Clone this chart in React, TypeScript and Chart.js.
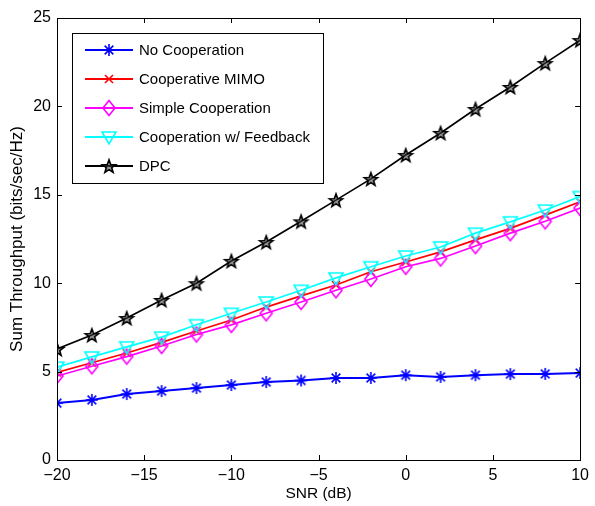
import React, { useEffect, useRef } from "react";
import { Chart, registerables } from "chart.js";

Chart.register(...registerables);

const snr = [-20, -18, -16, -14, -12, -10, -8, -6, -4, -2, 0, 2, 4, 6, 8, 10];
const noCoop = [3.22, 3.4, 3.73, 3.9, 4.07, 4.24, 4.41, 4.5, 4.64, 4.64, 4.8, 4.7, 4.8, 4.86, 4.87, 4.92];
const coopMimo = [4.95, 5.5, 6.05, 6.65, 7.3, 7.92, 8.65, 9.28, 9.9, 10.65, 11.2, 11.77, 12.45, 13.1, 13.85, 14.6];
const simpleCoop = [4.75, 5.3, 5.85, 6.45, 7.1, 7.64, 8.3, 8.94, 9.6, 10.24, 10.93, 11.4, 12.1, 12.83, 13.5, 14.25];
const coopFeedback = [5.25, 5.83, 6.4, 6.95, 7.65, 8.3, 8.94, 9.6, 10.3, 10.93, 11.54, 12.05, 12.83, 13.47, 14.14, 14.9];
const dpc = [6.28, 7.07, 8.03, 9.05, 10.0, 11.26, 12.33, 13.5, 14.7, 15.9, 17.25, 18.5, 19.85, 21.1, 22.45, 23.75];

const seriesLabels = ["No Cooperation", "Cooperative MIMO", "Simple Cooperation", "Cooperation w/ Feedback", "DPC"];
const seriesColors = ["#0000ff", "#ff0000", "#ff00ff", "#00ffff", "#000000"];
const seriesMarkers = ["asterisk", "x", "diamond", "triangleDown", "pentagram"];
const seriesValues = [noCoop, coopMimo, simpleCoop, coopFeedback, dpc];

const xTicks = [-20, -15, -10, -5, 0, 5, 10];
const yTicks = [0, 5, 10, 15, 20, 25];

const FONT = "'Liberation Sans', Arial, Helvetica, sans-serif";

function makeMarker(type: string, color: string): HTMLCanvasElement {
  const s = 20;
  const c = document.createElement("canvas");
  c.width = s;
  c.height = s;
  const ctx = c.getContext("2d")!;
  const m = s / 2;
  ctx.strokeStyle = color;
  ctx.lineWidth = 1.6;
  ctx.lineJoin = "miter";
  ctx.beginPath();
  if (type === "asterisk") {
    const r = 6;
    ctx.moveTo(m, m - r); ctx.lineTo(m, m + r);
    ctx.moveTo(m - r, m); ctx.lineTo(m + r, m);
    const d = r * 0.72;
    ctx.moveTo(m - d, m - d); ctx.lineTo(m + d, m + d);
    ctx.moveTo(m - d, m + d); ctx.lineTo(m + d, m - d);
  } else if (type === "x") {
    const d = 4;
    ctx.moveTo(m - d, m - d); ctx.lineTo(m + d, m + d);
    ctx.moveTo(m - d, m + d); ctx.lineTo(m + d, m - d);
  } else if (type === "diamond") {
    ctx.moveTo(m, m - 7.5); ctx.lineTo(m + 6, m); ctx.lineTo(m, m + 7.5); ctx.lineTo(m - 6, m); ctx.closePath();
  } else if (type === "triangleDown") {
    ctx.moveTo(m - 7, m - 5); ctx.lineTo(m + 7, m - 5); ctx.lineTo(m, m + 7); ctx.closePath();
  } else if (type === "pentagram") {
    const R = 7, r = 2.9;
    for (let i = 0; i < 10; i++) {
      const a = -Math.PI / 2 + (i * Math.PI) / 5;
      const rad = i % 2 === 0 ? R : r;
      const px = m + rad * Math.cos(a);
      const py = m + 0.8 + rad * Math.sin(a);
      if (i === 0) ctx.moveTo(px, py); else ctx.lineTo(px, py);
    }
    ctx.closePath();
    ctx.fillStyle = "rgba(60,60,60,0.55)";
    ctx.fill();
  }
  ctx.stroke();
  return c;
}

const minus = (v: number) => (v < 0 ? "\u2212" + Math.abs(v) : String(v));

export default function App() {
  const ref = useRef<HTMLCanvasElement | null>(null);
  useEffect(() => {
    document.body.style.margin = "0";
    const markers = seriesMarkers.map((t, i) => makeMarker(t, seriesColors[i]));

    const framePlugin = {
      id: "frame",
      afterDatasetsDraw(chart: any) {
        const { ctx, chartArea: a, scales } = chart;
        ctx.save();
        ctx.strokeStyle = "#000";
        ctx.lineWidth = 1;
        ctx.strokeRect(Math.round(a.left) + 0.5, Math.round(a.top) + 0.5, Math.round(a.right - a.left), Math.round(a.bottom - a.top));
        ctx.beginPath();
        const L = 5;
        xTicks.forEach((v) => {
          const x = Math.round(scales.x.getPixelForValue(v)) + 0.5;
          ctx.moveTo(x, a.bottom); ctx.lineTo(x, a.bottom - L);
          ctx.moveTo(x, a.top); ctx.lineTo(x, a.top + L);
        });
        yTicks.forEach((v) => {
          const y = Math.round(scales.y.getPixelForValue(v)) + 0.5;
          ctx.moveTo(a.left, y); ctx.lineTo(a.left + L, y);
          ctx.moveTo(a.right, y); ctx.lineTo(a.right - L, y);
        });
        ctx.stroke();
        ctx.restore();
      },
      afterDraw(chart: any) {
        const { ctx, chartArea: a } = chart;
        const bx = a.left + 15, by = a.top + 15, bw = 251, bh = 150;
        ctx.save();
        ctx.fillStyle = "#fff";
        ctx.fillRect(bx, by, bw, bh);
        ctx.strokeStyle = "#000";
        ctx.lineWidth = 1;
        ctx.strokeRect(Math.round(bx) + 0.5, Math.round(by) + 0.5, bw, bh);
        ctx.font = "15px " + FONT;
        ctx.textBaseline = "middle";
        ctx.textAlign = "left";
        chart.data.datasets.forEach((ds: any, i: number) => {
          const y = by + 17 + i * 29;
          ctx.strokeStyle = ds.borderColor;
          ctx.lineWidth = 2;
          ctx.beginPath();
          ctx.moveTo(bx + 13, y); ctx.lineTo(bx + 61, y);
          ctx.stroke();
          const mk = markers[i];
          ctx.drawImage(mk, bx + 37 - mk.width / 2, y - mk.height / 2);
          ctx.fillStyle = "#000";
          ctx.fillText(ds.label, bx + 67, y + 1);
        });
        ctx.restore();
      },
    };

    const chart = new Chart(ref.current!, {
      type: "line",
      data: {
        datasets: seriesValues.map((vals, i) => ({
          label: seriesLabels[i],
          data: snr.map((x, j) => ({ x, y: vals[j] })),
          borderColor: seriesColors[i],
          backgroundColor: seriesColors[i],
          borderWidth: i === 0 ? 2 : 1.7,
          pointStyle: markers[i] as any,
          pointRadius: 8,
          fill: false,
          tension: 0,
          order: 4 - i,
        })),
      },
      options: {
        animation: false,
        responsive: false,
        maintainAspectRatio: false,
        layout: { padding: { left: 0, right: 10, top: 18, bottom: 0 } },
        plugins: { legend: { display: false }, tooltip: { enabled: false } },
        scales: {
          x: {
            type: "linear",
            min: -20,
            max: 10,
            afterBuildTicks: (s: any) => { s.ticks = xTicks.map((v) => ({ value: v })); },
            afterFit: (s: any) => { s.height = 46; },
            ticks: { color: "#000", font: { family: FONT, size: 16 }, padding: 6, callback: (v: any) => minus(Number(v)), maxRotation: 0 },
            grid: { display: false, drawTicks: false },
            border: { display: false },
            title: { display: true, text: "SNR (dB)", color: "#000", font: { family: FONT, size: 15.5 }, padding: { top: 0, bottom: 3 } },
          },
          y: {
            type: "linear",
            min: 0,
            max: 25,
            afterBuildTicks: (s: any) => { s.ticks = yTicks.map((v) => ({ value: v })); },
            afterFit: (s: any) => { s.width = 57; },
            ticks: { color: "#000", font: { family: FONT, size: 16 }, padding: 6 },
            grid: { display: false, drawTicks: false },
            border: { display: false },
            title: { display: true, text: "Sum Throughput (bits/sec/Hz)", color: "#000", font: { family: FONT, size: 17 }, padding: { top: 7, bottom: 0 } },
          },
        },
      },
      plugins: [framePlugin],
    } as any);
    return () => chart.destroy();
  }, []);
  return <canvas ref={ref} width={595} height={506} style={{ display: "block" }} />;
}
